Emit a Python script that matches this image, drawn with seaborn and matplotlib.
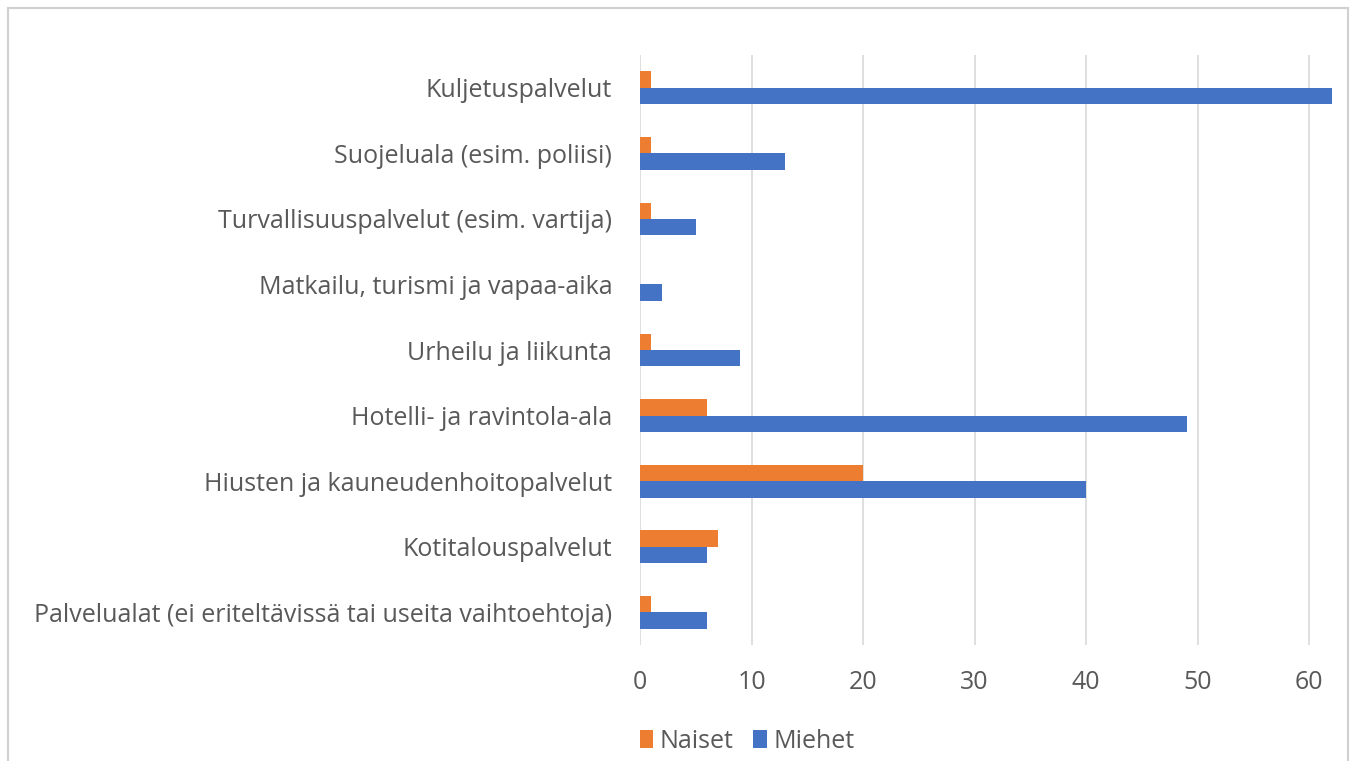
import matplotlib
matplotlib.use("Agg")
import matplotlib.pyplot as plt
import seaborn as sns
import pandas as pd
from matplotlib.patches import Rectangle

categories = [
    "Kuljetuspalvelut",
    "Suojeluala (esim. poliisi)",
    "Turvallisuuspalvelut (esim. vartija)",
    "Matkailu, turismi ja vapaa-aika",
    "Urheilu ja liikunta",
    "Hotelli- ja ravintola-ala",
    "Hiusten ja kauneudenhoitopalvelut",
    "Kotitalouspalvelut",
    "Palvelualat (ei eriteltävissä tai useita vaihtoehtoja)",
]
naiset = [1, 1, 1, 0, 1, 6, 20, 7, 1]
miehet = [62, 13, 5, 2, 9, 49, 40, 6, 6]
series = ["Naiset", "Miehet"]
xticks = [0, 10, 20, 30, 40, 50, 60]

df = pd.DataFrame({
    "category": categories * 2,
    "value": naiset + miehet,
    "series": ["Naiset"] * len(categories) + ["Miehet"] * len(categories),
})

sns.set_theme(style="white")
plt.rcParams['font.family'] = ['Open Sans', 'DejaVu Sans']

fig = plt.figure(figsize=(13.52, 7.61), dpi=100)
ax = fig.add_axes([640 / 1352, 1 - 645 / 761, (1335 - 640) / 1352, (645 - 55) / 761])

sns.barplot(data=df, y="category", x="value", hue="series", hue_order=series,
            order=categories, orient="h", width=0.5,
            palette={"Naiset": "#ED7D31", "Miehet": "#4472C4"},
            saturation=1, linewidth=0, ax=ax, legend=True)

ax.set_xlim(0, 62.3)
ax.set_xticks(xticks)
ax.set_xticklabels([str(t) for t in xticks])
ax.xaxis.grid(True, color="#D9D9D9", linewidth=1.2)
ax.set_axisbelow(True)
ax.set_xlabel("")
ax.set_ylabel("")
for s in ax.spines.values():
    s.set_visible(False)
ax.tick_params(axis="both", length=0, labelsize=18, colors="#595959")
ax.tick_params(axis="y", pad=20)
ax.tick_params(axis="x", pad=18)

handles, labels = ax.get_legend_handles_labels()
ax.legend_.remove()
fig.legend(handles, labels, loc="center", bbox_to_anchor=(747 / 1352, 1 - 741 / 761),
           ncol=2, frameon=False, fontsize=18, handlelength=0.55, handleheight=0.75,
           handletextpad=0.25, columnspacing=0.8, labelcolor="#595959")

fig.patches.append(Rectangle((8 / 1352, -0.05), (1348 - 8) / 1352, 1.05 - 8 / 761,
                             transform=fig.transFigure, fill=False,
                             edgecolor="#D0D0D0", linewidth=1.5))

fig.savefig("out.png", dpi=100)
